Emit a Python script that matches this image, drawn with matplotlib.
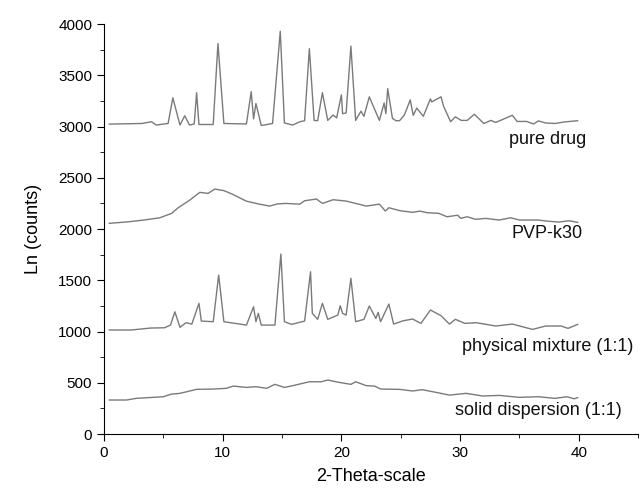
import matplotlib.pyplot as plt
from matplotlib.ticker import MultipleLocator

plt.rcParams['font.family'] = ['Liberation Sans', 'DejaVu Sans']

# pure drug
pd_x = [0.45, 3.2, 4.0, 4.4, 5.4, 5.8, 6.4, 6.8, 7.2, 7.6, 7.8, 8.0, 9.2, 9.6, 10.1,
        12.0, 12.4, 12.6, 12.8, 13.25, 14.2, 14.85, 15.2, 15.9, 16.5, 16.9, 17.3, 17.7,
        18.0, 18.4, 18.85, 19.3, 19.6, 20.0, 20.1, 20.4, 20.8, 21.2, 21.65, 21.9, 22.35,
        23.2, 23.6, 23.75, 23.9, 24.3, 24.6, 24.9, 25.3, 25.8, 26.05, 26.35, 26.9, 27.5,
        27.6, 28.4, 28.6, 29.2, 29.6, 30.1, 30.6, 31.2, 32.0, 32.6, 33.0, 33.6, 34.4,
        34.8, 35.6, 36.2, 36.6, 37.2, 38.0, 38.8, 39.9]
pd_y = [3024, 3030, 3047, 3015, 3030, 3280, 3015, 3105, 3015, 3025, 3330, 3020, 3020,
        3810, 3030, 3025, 3340, 3075, 3225, 3010, 3030, 3930, 3035, 3015, 3047, 3057,
        3760, 3060, 3057, 3330, 3060, 3112, 3085, 3310, 3126, 3133, 3785, 3060, 3150,
        3100, 3290, 3060, 3230, 3126, 3370, 3080, 3057, 3057, 3112, 3260, 3110, 3180,
        3100, 3270, 3240, 3290, 3200, 3047, 3095, 3060, 3060, 3120, 3030, 3060, 3040,
        3070, 3110, 3050, 3050, 3025, 3055, 3035, 3030, 3045, 3057]

# PVP-k30
pvp_x = [0.45, 2.0, 3.5, 4.7, 5.7, 6.25, 7.2, 8.07, 8.77, 9.33, 10.1, 10.86, 11.97, 13.0,
         13.95, 14.6, 15.3, 16.5, 16.9, 17.9, 18.4, 19.3, 20.4, 21.2, 22.1, 23.2, 23.7,
         24.0, 24.9, 26.0, 26.6, 27.2, 28.2, 28.9, 29.8, 30.05, 30.6, 31.3, 32.15, 33.3,
         34.25, 35.0, 36.6, 37.3, 38.3, 39.2, 39.9]
pvp_y = [2056, 2070, 2090, 2110, 2153, 2208, 2280, 2358, 2348, 2390, 2375, 2338, 2273,
         2245, 2224, 2245, 2250, 2243, 2276, 2293, 2250, 2286, 2273, 2250, 2224, 2243,
         2176, 2208, 2180, 2163, 2175, 2160, 2153, 2120, 2135, 2104, 2120, 2095, 2104,
         2088, 2110, 2088, 2088, 2078, 2068, 2081, 2065]

# physical mixture (1:1)
pm_x = [0.45, 2.3, 3.9, 5.1, 5.6, 5.97, 6.4, 6.9, 7.4, 8.0, 8.2, 9.2, 9.66, 10.1, 12.0,
        12.6, 12.8, 13.0, 13.25, 14.4, 14.9, 15.2, 15.8, 16.9, 17.4, 17.55, 18.0, 18.4,
        18.85, 19.7, 19.9, 20.1, 20.4, 20.8, 21.2, 21.9, 22.35, 22.9, 23.1, 23.3, 24.0,
        24.4, 25.2, 26.0, 26.7, 27.5, 28.4, 29.1, 29.6, 30.4, 31.4, 33.0, 34.4, 36.1,
        37.2, 38.5, 39.1, 39.9]
pm_y = [1015, 1015, 1034, 1037, 1063, 1193, 1041, 1086, 1073, 1275, 1102, 1096, 1551,
        1096, 1063, 1242, 1096, 1177, 1063, 1063, 1756, 1096, 1070, 1102, 1583, 1177,
        1119, 1275, 1119, 1161, 1252, 1177, 1161, 1519, 1096, 1119, 1249, 1128, 1187,
        1096, 1268, 1073, 1105, 1122, 1080, 1210, 1154, 1073, 1119, 1080, 1086, 1054,
        1073, 1021, 1054, 1054, 1031, 1070]

# solid dispersion (1:1)
sd_x = [0.45, 1.9, 2.7, 5.0, 5.7, 6.4, 7.8, 9.2, 10.3, 10.9, 12.0, 12.8, 13.7, 14.4,
        15.2, 15.9, 17.3, 18.3, 18.85, 19.8, 20.8, 21.2, 22.1, 22.8, 23.3, 24.9, 26.0,
        26.8, 27.95, 29.1, 30.5, 31.9, 33.3, 35.0, 36.6, 38.0, 39.0, 39.6, 39.9]
sd_y = [332, 332, 348, 364, 390, 397, 436, 439, 446, 468, 455, 462, 446, 485, 455, 472,
        510, 510, 527, 504, 485, 510, 472, 468, 439, 436, 420, 433, 407, 380, 397, 371,
        377, 358, 364, 348, 364, 344, 355]

labels = ['pure drug', 'PVP-k30', 'physical mixture (1:1)', 'solid dispersion (1:1)']
label_pos = [(40.6, 2870), (40.3, 1960), (44.6, 850), (43.6, 234)]

fig = plt.figure(figsize=(6.42, 4.91), dpi=100)
ax = fig.add_axes([0.162, 0.116, 0.832, 0.835])

for xs, ys in [(pd_x, pd_y), (pvp_x, pvp_y), (pm_x, pm_y), (sd_x, sd_y)]:
    ax.plot(xs, ys, color='#7a7a7a', lw=1)

for lab, (lx, ly) in zip(labels, label_pos):
    ax.text(lx, ly, lab, ha='right', va='center', fontsize=13, color='#111111')

ax.set_xlim(0, 45)
ax.set_ylim(0, 4000)
ax.xaxis.set_major_locator(MultipleLocator(10))
ax.xaxis.set_minor_locator(MultipleLocator(5))
ax.yaxis.set_major_locator(MultipleLocator(500))
ax.yaxis.set_minor_locator(MultipleLocator(250))
ax.tick_params(which='major', direction='out', length=5, labelsize=11)
ax.tick_params(which='minor', direction='out', length=3)
ax.spines['top'].set_visible(False)
ax.spines['right'].set_visible(False)

ax.set_xlabel('2-Theta-scale', fontsize=13, labelpad=6)
ax.set_ylabel('Ln (counts)', fontsize=13, labelpad=12)

fig.savefig('out.png', dpi=100)
